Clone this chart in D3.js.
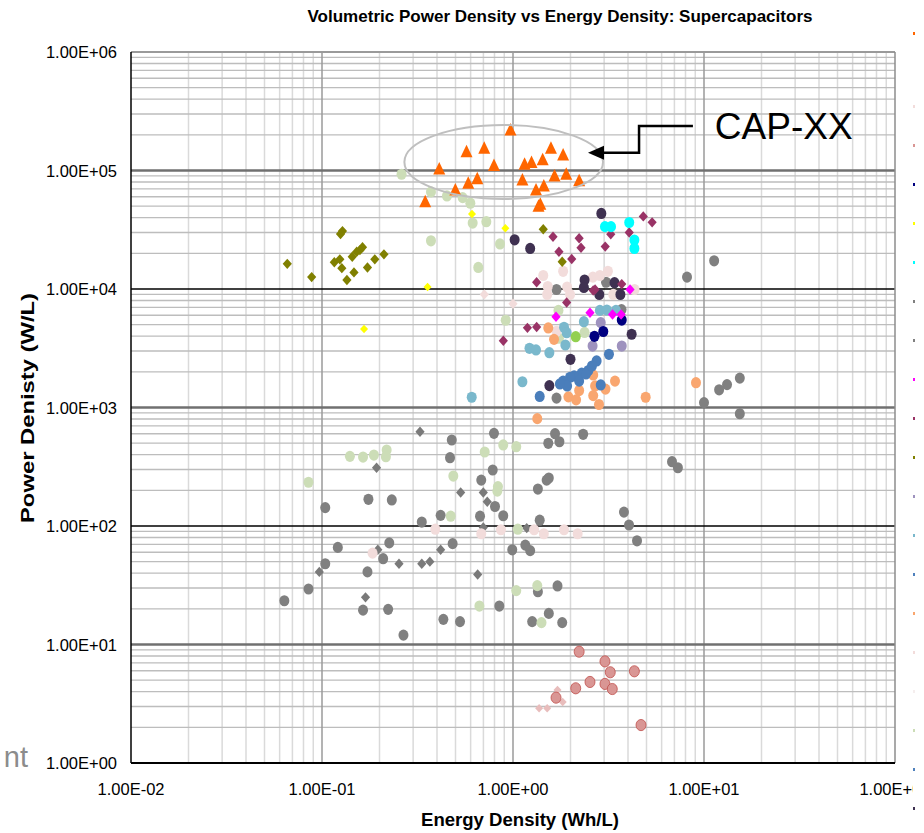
<!DOCTYPE html>
<html>
<head>
<meta charset="utf-8">
<script src="https://cdn.jsdelivr.net/npm/d3@7"></script>
<style>
  body { margin: 0; background: #fff; }
  text { font-family: 'Liberation Sans', Arial, sans-serif; }
</style>
</head>
<body>
<svg id="chart" width="924" height="833"></svg>
<script>
// axis ticks
const xTicks = [0.01, 0.1, 1, 10, 100]
const yTicks = [1, 10, 100, 1e3, 1e4, 1e5, 1e6]

// series: [energy density Wh/L, power density W/L]
const capxx = [[0.97, 2.2e5], [0.571, 1.44e5], [0.707, 1.54e5], [0.411, 1.03e5], [0.795, 1.1e5], [0.65, 8.5e4],
  [0.583, 7.8e4], [0.499, 6.85e4], [0.347, 5.45e4], [1.15, 1.13e5], [1.25, 1.17e5], [1.43, 1.23e5], [1.58, 1.54e5],
  [1.83, 1.35e5], [1.12, 8.3e4], [1.65, 9.0e4], [1.9, 9.3e4], [2.22, 8.2e4], [1.32, 6.85e4], [1.45, 7.4e4],
  [1.36, 5.0e4], [1.39, 5.2e4]]
const grayCircles = [[1.69, 9.9e3], [3.07, 1.14e4], [3.7, 6.7e3], [8.15, 1.26e4], [11.3, 1.73e4], [1.69, 1.2e3],
  [10.0, 1.1e3], [12.0, 1.41e3], [13.2, 1.56e3], [15.4, 1.77e3], [15.4, 887], [0.795, 605], [1.66, 601], [1.53, 499],
  [1.75, 514], [2.33, 594], [6.8, 349], [7.3, 310], [0.478, 532], [0.468, 377], [0.783, 297], [0.682, 244], [1.5, 244],
  [1.35, 205], [0.175, 168], [0.232, 166], [0.104, 143], [0.805, 146], [0.889, 122], [0.418, 123], [0.672, 121],
  [0.333, 108], [1.38, 112], [0.121, 66], [0.225, 72], [0.209, 53], [0.483, 71], [0.991, 63], [1.16, 69], [1.23, 62],
  [0.104, 48], [0.173, 41], [0.085, 29.4], [0.0635, 23.4], [0.164, 19.5], [0.222, 19.8], [0.267, 12.0], [0.432, 16.3],
  [0.528, 15.6], [0.848, 21.1], [1.35, 27.9], [1.71, 31.2], [1.54, 18.3], [1.26, 15.6], [1.81, 15.3], [3.81, 131],
  [4.05, 102], [4.46, 75], [1.54, 254]]
const grayDiamonds = [[0.326, 625], [0.193, 310], [0.532, 192], [0.699, 192], [0.733, 160], [0.699, 97], [1.18, 96],
  [0.196, 63], [0.253, 48], [0.333, 48], [0.367, 50], [0.418, 63], [0.0968, 41], [0.653, 39], [0.169, 25]]
const paleGreen = [[0.261, 9.3e4], [0.372, 6.6e4], [0.451, 6.1e4], [0.545, 5.9e4], [0.598, 5.3e4], [0.615, 3.6e4],
  [0.725, 3.7e4], [0.372, 2.55e4], [0.855, 2.4e4], [0.658, 1.52e4], [1.73, 6.6e3], [0.916, 5.45e3], [2.37, 4.3e3],
  [1.74, 3.84e3], [0.085, 234], [0.14, 387], [0.164, 382], [0.187, 397], [0.218, 438], [0.216, 384], [0.711, 421],
  [0.889, 483], [1.04, 467], [0.487, 264], [0.834, 215], [0.828, 197], [0.472, 121], [1.06, 94], [1.04, 28.5],
  [1.34, 31.4], [0.667, 21.1], [1.41, 15.3]]
const palePink = [[1.44, 1.3e4], [1.83, 1.41e4], [1.52, 1.05e4], [1.92, 1.04e4], [1.99, 9.0e3], [1.51, 9.0e3],
  [2.62, 1.26e4], [2.85, 1.3e4], [3.14, 1.41e4], [3.35, 9.0e3], [4.33, 9.9e3], [1.69, 4.4e3], [0.392, 94], [0.682, 86],
  [0.865, 93], [1.29, 93], [1.45, 86], [1.85, 93], [2.18, 86], [0.184, 59]]
const palePinkDiamonds = [[0.708, 9.0e3], [1.0, 7.5e3]]
const pinkDiamonds = [[1.71, 4.13], [1.82, 3.27], [1.37, 2.9], [1.51, 2.9]]
const rosy = [[2.22, 8.7], [3.03, 7.2], [3.23, 5.83], [4.32, 5.94], [2.53, 4.83], [3.03, 4.65], [3.31, 4.21],
  [2.13, 4.27], [1.68, 3.56], [4.68, 2.09]]
const olive = [[0.125, 2.91e4], [0.128, 3.08e4], [0.0658, 1.63e4], [0.0883, 1.26e4], [0.116, 1.68e4], [0.124, 1.78e4],
  [0.127, 1.5e4], [0.135, 1.19e4], [0.147, 1.38e4], [0.144, 1.87e4], [0.152, 2.06e4], [0.163, 2.25e4], [0.158, 2.13e4],
  [0.173, 1.52e4], [0.189, 1.78e4], [0.211, 1.96e4], [1.44, 3.19e4], [1.81, 1.7e4]]
const yellow = [[0.61, 4.3e4], [0.912, 3.26e4], [0.357, 1.04e4], [0.166, 4.6e3]]
const darkPurple = [[2.9, 4.34e4], [1.02, 2.6e4], [1.23, 2.2e4], [2.37, 1.19e4], [2.35, 1.03e4], [3.4, 1.13e4],
  [2.83, 9.0e3], [3.65, 9.0e3], [4.18, 4.15e3], [2.0, 2.55e3], [1.55, 1.53e3]]
const maroon = [[4.81, 4.1e4], [5.35, 3.65e4], [1.62, 2.76e4], [2.22, 2.68e4], [2.27, 2.23e4], [3.25, 2.9e4],
  [4.06, 3.0e4], [4.32, 2.28e4], [3.04, 2.28e4], [1.74, 2.06e4], [2.03, 1.79e4], [1.33, 1.14e4], [2.63, 9.7e3],
  [3.71, 1.1e4], [1.91, 7.7e3], [1.19, 4.7e3], [1.33, 4.78e3], [0.89, 3.66e3], [2.69, 9.9e3]]
const sandy = [[1.53, 4.69e3], [1.64, 3.76e3], [2.63, 1.88e3], [3.42, 1.67e3], [2.69, 1.52e3], [3.05, 1.43e3],
  [2.22, 1.39e3], [1.95, 1.23e3], [2.14, 1.16e3], [2.63, 1.26e3], [2.82, 1.06e3], [4.95, 1.22e3], [9.08, 1.62e3],
  [1.34, 805]]
const steelBlue = [[2.74, 2.47e3], [3.18, 2.81e3], [2.48, 2.05e3], [2.29, 1.95e3], [2.09, 1.85e3], [1.99, 1.8e3],
  [1.83, 1.67e3], [1.92, 1.52e3], [2.22, 1.67e3], [2.41, 1.92e3], [2.88, 1.55e3], [1.38, 1.24e3], [1.76, 1.58e3],
  [2.59, 2.24e3]]
const lightBlue = [[2.85, 6.6e3], [3.1, 6.65e3], [3.46, 6.6e3], [2.35, 5.3e3], [1.85, 4.75e3], [1.91, 4.28e3],
  [1.22, 3.16e3], [1.32, 3.06e3], [1.55, 2.9e3], [1.88, 3.37e3], [1.12, 1.65e3], [0.608, 1.22e3]]
const lavender = [[2.88, 5.2e3], [2.61, 3.3e3], [3.71, 3.3e3]]
const navy = [[3.71, 5.47e3], [2.97, 4.38e3], [2.67, 3.99e3]]
const green = [[2.13, 3.96e3]]
const magenta = [[4.1, 9.9e3], [2.53, 6.3e3], [1.68, 5.84e3], [3.32, 6.1e3], [3.68, 6.1e3]]
const cyan = [[3.03, 3.36e4], [3.26, 3.36e4], [4.06, 3.64e4], [4.32, 2.59e4], [4.32, 2.2e4]]

// cut-off legend swatches on the right edge
const legendColors = ['#FF6600', '#F2DCDB', '#D99694', '#000080', '#FFFF00', '#00FFFF', '#808080', '#808080',
  '#FF00FF', '#993366', '#808000', '#9E92BE', '#7AB8CC', '#4F81BD', '#F9A66F', '#F2DCDB', '#F5EEEE', '#CCDDB7',
  '#4F81BD', '#3F3151']

// CAP-XX annotation (data units)
const ellipseBox = [[0.27, 2.96], [5.75e4, 2.42e5]]
const arrowPath = [[8.75, 2.38e5], [4.57, 2.38e5], [4.57, 1.41e5], [2.47, 1.41e5]]
const labelAt = [11.4, 1.84e5]

// draw order (bottom first) with marker style
const series = [
  { data: grayCircles, shape: 'circle', fill: '#808080' },
  { data: grayDiamonds, shape: 'diamond', fill: '#7A7A7A' },
  { data: paleGreen, shape: 'circle', fill: '#CCDDB7' },
  { data: palePink, shape: 'circle', fill: '#F2DCDB' },
  { data: palePinkDiamonds, shape: 'diamond', fill: '#F2DCDB' },
  { data: pinkDiamonds, shape: 'smalldiamond', fill: '#E8BDBC' },
  { data: rosy, shape: 'circle', fill: '#D99694', stroke: '#C0504D' },
  { data: olive, shape: 'diamond', fill: '#808000' },
  { data: yellow, shape: 'smalldiamond', fill: '#FFFF00' },
  { data: darkPurple, shape: 'circle', fill: '#3F3151' },
  { data: maroon, shape: 'diamond', fill: '#993366' },
  { data: sandy, shape: 'circle', fill: '#F9A66F' },
  { data: steelBlue, shape: 'circle', fill: '#4A7EBB' },
  { data: lightBlue, shape: 'circle', fill: '#7AB8CC' },
  { data: lavender, shape: 'circle', fill: '#9E92BE' },
  { data: navy, shape: 'circle', fill: '#000080' },
  { data: green, shape: 'circle', fill: '#92D050' },
  { data: magenta, shape: 'diamond', fill: '#FF00FF' },
  { data: cyan, shape: 'circle', fill: '#00FFFF' },
  { data: capxx, shape: 'triangle', fill: '#FF6600' }
]

const plotLeft = 131, plotRight = 895, plotTop = 52, plotBottom = 763

let svg = d3.select('#chart')

let x = d3.scaleLog().domain([xTicks[0], xTicks[xTicks.length - 1]]).range([plotLeft, plotRight])
let y = d3.scaleLog().domain([yTicks[0], yTicks[yTicks.length - 1]]).range([plotBottom, plotTop])

/**
 * Formats a power of ten like Excel scientific labels.
 * @param v - tick value.
 * @returns string such as 1.00E+03.
 */
function sci(v) {
  let e = Math.round(Math.log10(v))
  return '1.00E' + (e < 0 ? '-' : '+') + String(Math.abs(e)).padStart(2, '0')
}

function isMajor(v) {
  return Math.abs(Math.log10(v) - Math.round(Math.log10(v))) < 1e-9
}

/**
 * Marker path centred on 0,0.
 * @param shape - circle, diamond, smalldiamond or triangle.
 */
function markerPath(shape) {
  if (shape === 'triangle') return 'M0,-7L6,5.5L-6,5.5Z'
  if (shape === 'diamond') return 'M0,-5.2L4.6,0L0,5.2L-4.6,0Z'
  if (shape === 'smalldiamond') return 'M0,-4.3L4,0L0,4.3L-4,0Z'
  return 'M-5,0A5,5.6 0 1,0 5,0A5,5.6 0 1,0 -5,0Z'
}

// minor grid
let grid = svg.append('g')
grid.selectAll('.vminor')
  .data(x.ticks().filter(d => !isMajor(d)))
  .enter().append('line')
  .attr('x1', d => x(d)).attr('x2', d => x(d))
  .attr('y1', plotTop).attr('y2', plotBottom)
  .attr('stroke', '#DADADA').attr('stroke-width', 1.5)

grid.selectAll('.hminor')
  .data(y.ticks().filter(d => !isMajor(d)))
  .enter().append('line')
  .attr('x1', plotLeft).attr('x2', plotRight)
  .attr('y1', d => y(d)).attr('y2', d => y(d))
  .attr('stroke', '#BDBDBD').attr('stroke-width', 1.4)

// major grid
grid.selectAll('.vmajor')
  .data(xTicks.slice(1, -1))
  .enter().append('line')
  .attr('x1', d => x(d)).attr('x2', d => x(d))
  .attr('y1', plotTop).attr('y2', plotBottom)
  .attr('stroke', '#9A9A9A').attr('stroke-width', 1.5)

grid.selectAll('.hmajor')
  .data(yTicks.slice(1))
  .enter().append('line')
  .attr('x1', plotLeft).attr('x2', plotRight)
  .attr('y1', d => y(d)).attr('y2', d => y(d))
  .attr('stroke', d => {
    let e = Math.round(Math.log10(d))
    if (e === 6) return '#9A9A9A'
    return e % 2 ? '#707070' : '#000'
  })
  .attr('stroke-width', d => {
    let e = Math.round(Math.log10(d))
    if (e === 6) return 2
    return e % 2 ? 2.5 : 1.3
  })

// plot frame
svg.append('line').attr('x1', plotRight).attr('x2', plotRight).attr('y1', plotTop).attr('y2', plotBottom)
  .attr('stroke', '#8C8C8C').attr('stroke-width', 1.5)
svg.append('line').attr('x1', plotLeft).attr('x2', plotLeft).attr('y1', plotTop).attr('y2', plotBottom)
  .attr('stroke', '#000').attr('stroke-width', 1.5)
svg.append('line').attr('x1', plotLeft).attr('x2', plotRight).attr('y1', plotBottom).attr('y2', plotBottom)
  .attr('stroke', '#000').attr('stroke-width', 2)

// points
series.forEach(s => {
  svg.append('g').selectAll('path')
    .data(s.data)
    .enter().append('path')
    .attr('d', markerPath(s.shape))
    .attr('transform', d => 'translate(' + x(d[0]) + ',' + y(d[1]) + ')')
    .attr('fill', s.fill)
    .attr('stroke', s.stroke || 'none')
    .attr('stroke-width', s.stroke ? 0.8 : 0)
})

// ellipse round the CAP-XX points
let ex0 = x(ellipseBox[0][0]), ex1 = x(ellipseBox[0][1])
let ey0 = y(ellipseBox[1][1]), ey1 = y(ellipseBox[1][0])
svg.append('ellipse')
  .attr('cx', (ex0 + ex1) / 2).attr('cy', (ey0 + ey1) / 2)
  .attr('rx', (ex1 - ex0) / 2).attr('ry', (ey1 - ey0) / 2)
  .attr('fill', 'none').attr('stroke', '#BFBFBF').attr('stroke-width', 2)

// arrow
let arrowPts = arrowPath.map(p => [x(p[0]), y(p[1])])
let tip = arrowPts[arrowPts.length - 1]
svg.append('path')
  .attr('d', d3.line()(arrowPts.slice(0, -1).concat([[tip[0] + 12, tip[1]]])))
  .attr('fill', 'none').attr('stroke', '#000').attr('stroke-width', 2.5)
svg.append('path')
  .attr('d', 'M' + tip[0] + ',' + tip[1] + 'L' + (tip[0] + 16) + ',' + (tip[1] - 7) + 'L' + (tip[0] + 16) + ',' + (tip[1] + 7) + 'Z')
  .attr('fill', '#000')

svg.append('text')
  .attr('x', x(labelAt[0])).attr('y', y(labelAt[1]))
  .attr('font-size', 37)
  .attr('fill', '#000')
  .text('CAP-XX')

// tick labels
svg.selectAll('.ylab')
  .data(yTicks)
  .enter().append('text')
  .attr('x', plotLeft - 14).attr('y', d => y(d) + 6)
  .attr('text-anchor', 'end')
  .attr('font-size', 16.5)
  .text(sci)

svg.selectAll('.xlab')
  .data(xTicks)
  .enter().append('text')
  .attr('x', d => x(d)).attr('y', 795)
  .attr('text-anchor', 'middle')
  .attr('font-size', 16.5)
  .text(sci)

// titles
svg.append('text')
  .attr('x', 560).attr('y', 22)
  .attr('text-anchor', 'middle')
  .attr('font-size', 16.5).attr('font-weight', 'bold')
  .attr('textLength', 505).attr('lengthAdjust', 'spacingAndGlyphs')
  .text('Volumetric Power Density vs Energy Density: Supercapacitors')

svg.append('text')
  .attr('x', 520).attr('y', 826)
  .attr('text-anchor', 'middle')
  .attr('font-size', 18).attr('font-weight', 'bold')
  .attr('textLength', 198).attr('lengthAdjust', 'spacingAndGlyphs')
  .text('Energy Density (Wh/L)')

svg.append('text')
  .attr('transform', 'translate(34,408) rotate(-90)')
  .attr('text-anchor', 'middle')
  .attr('font-size', 19).attr('font-weight', 'bold')
  .attr('textLength', 230).attr('lengthAdjust', 'spacingAndGlyphs')
  .text('Power Denisty (W/L)')

// leftover text from the slide behind the chart
svg.append('text')
  .attr('x', 28).attr('y', 767)
  .attr('text-anchor', 'end')
  .attr('font-size', 29)
  .attr('fill', '#8C8C8C')
  .text('nt')

// legend box, cut off by the window edge
svg.append('rect').attr('x', 913).attr('y', 0).attr('width', 11).attr('height', 833).attr('fill', '#fff')
svg.selectAll('.leg')
  .data(legendColors)
  .enter().append('rect')
  .attr('x', 913).attr('y', (d, i) => i === 0 ? 32 : 66 + i * 39)
  .attr('width', 2).attr('height', 3)
  .attr('fill', d => d)
</script>
</body>
</html>
